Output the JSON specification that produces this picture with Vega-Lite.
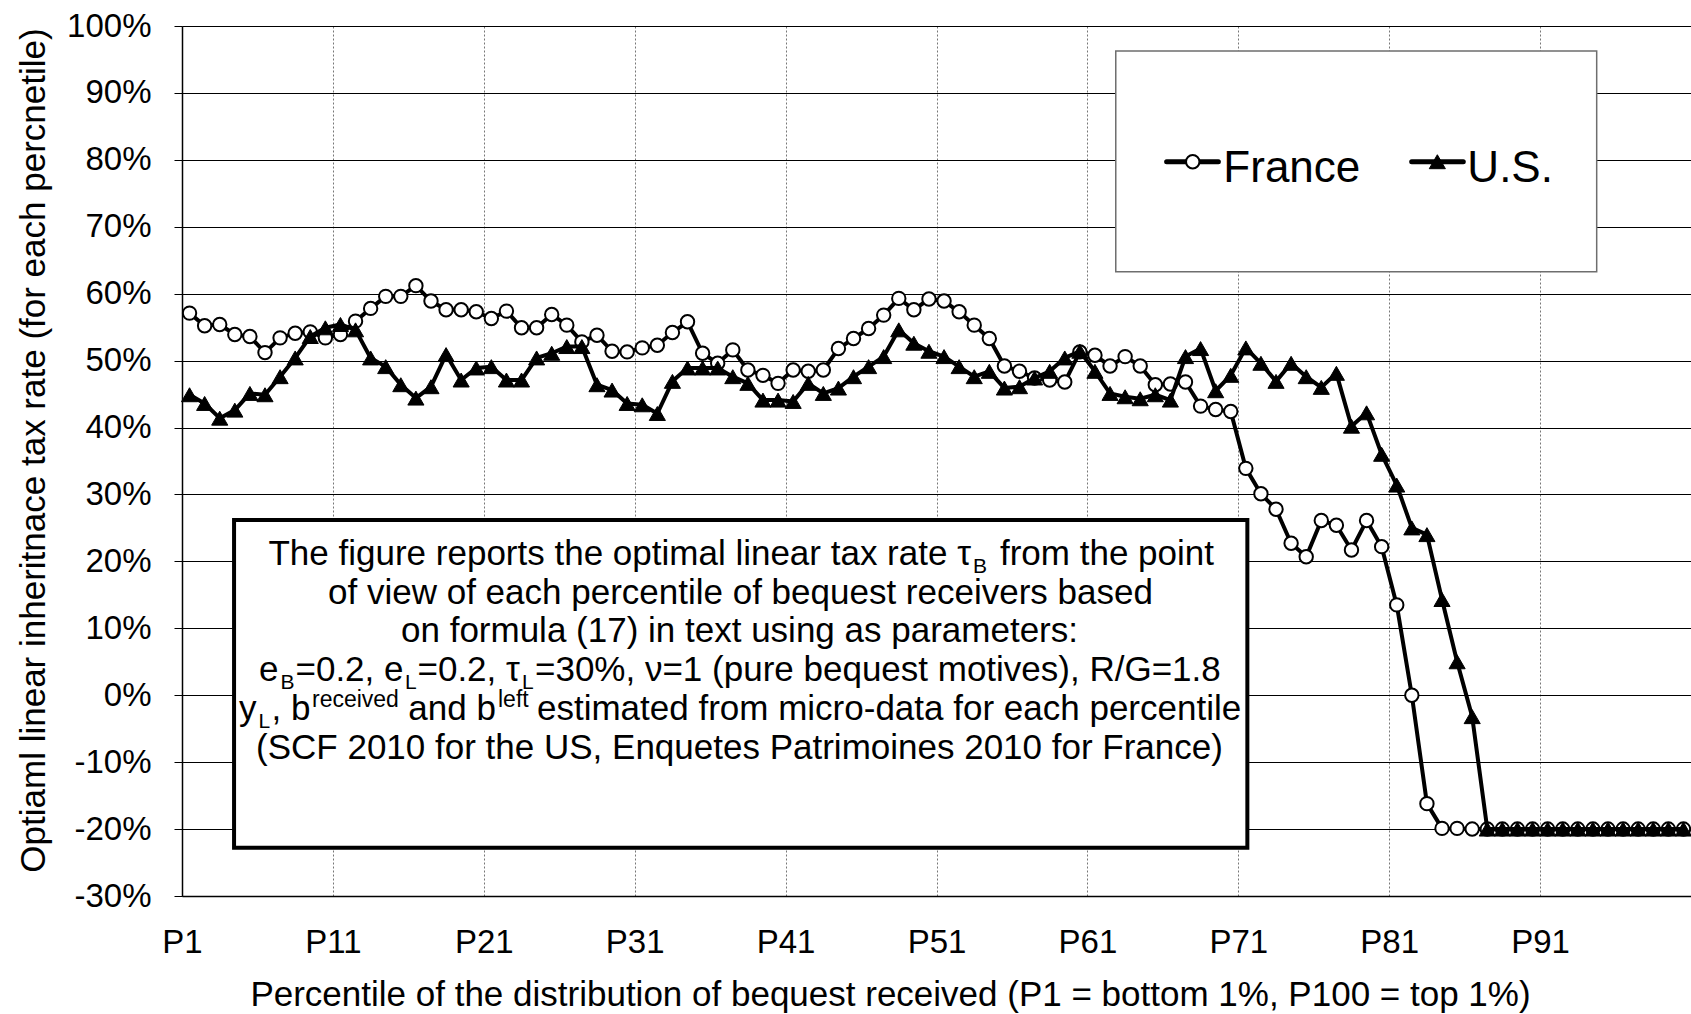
{
  "$schema": "https://vega.github.io/schema/vega-lite/v6.json",
  "width": 1509,
  "height": 870,
  "autosize": {"type": "none"},
  "padding": {"left": 182, "top": 26, "right": 0, "bottom": 118},
  "background": "white",
  "config": {"view": {"stroke": null}, "font": "Liberation Sans"},
  "data": {"values": [
    {"p":1,"s":"France","v":0.571},{"p":2,"s":"France","v":0.552},{"p":3,"s":"France","v":0.554},{"p":4,"s":"France","v":0.539},{"p":5,"s":"France","v":0.536},
    {"p":6,"s":"France","v":0.512},{"p":7,"s":"France","v":0.534},{"p":8,"s":"France","v":0.541},{"p":9,"s":"France","v":0.543},{"p":10,"s":"France","v":0.534},
    {"p":11,"s":"France","v":0.539},{"p":12,"s":"France","v":0.559},{"p":13,"s":"France","v":0.578},{"p":14,"s":"France","v":0.596},{"p":15,"s":"France","v":0.596},
    {"p":16,"s":"France","v":0.612},{"p":17,"s":"France","v":0.589},{"p":18,"s":"France","v":0.576},{"p":19,"s":"France","v":0.576},{"p":20,"s":"France","v":0.573},
    {"p":21,"s":"France","v":0.563},{"p":22,"s":"France","v":0.574},{"p":23,"s":"France","v":0.549},{"p":24,"s":"France","v":0.549},{"p":25,"s":"France","v":0.569},
    {"p":26,"s":"France","v":0.553},{"p":27,"s":"France","v":0.528},{"p":28,"s":"France","v":0.538},{"p":29,"s":"France","v":0.514},{"p":30,"s":"France","v":0.513},
    {"p":31,"s":"France","v":0.519},{"p":32,"s":"France","v":0.523},{"p":33,"s":"France","v":0.542},{"p":34,"s":"France","v":0.558},{"p":35,"s":"France","v":0.511},
    {"p":36,"s":"France","v":0.496},{"p":37,"s":"France","v":0.516},{"p":38,"s":"France","v":0.486},{"p":39,"s":"France","v":0.478},{"p":40,"s":"France","v":0.466},
    {"p":41,"s":"France","v":0.486},{"p":42,"s":"France","v":0.484},{"p":43,"s":"France","v":0.486},{"p":44,"s":"France","v":0.518},{"p":45,"s":"France","v":0.533},
    {"p":46,"s":"France","v":0.548},{"p":47,"s":"France","v":0.568},{"p":48,"s":"France","v":0.593},{"p":49,"s":"France","v":0.576},{"p":50,"s":"France","v":0.592},
    {"p":51,"s":"France","v":0.589},{"p":52,"s":"France","v":0.573},{"p":53,"s":"France","v":0.553},{"p":54,"s":"France","v":0.533},{"p":55,"s":"France","v":0.492},
    {"p":56,"s":"France","v":0.484},{"p":57,"s":"France","v":0.474},{"p":58,"s":"France","v":0.471},{"p":59,"s":"France","v":0.468},{"p":60,"s":"France","v":0.513},
    {"p":61,"s":"France","v":0.508},{"p":62,"s":"France","v":0.492},{"p":63,"s":"France","v":0.506},{"p":64,"s":"France","v":0.492},{"p":65,"s":"France","v":0.464},
    {"p":66,"s":"France","v":0.465},{"p":67,"s":"France","v":0.468},{"p":68,"s":"France","v":0.432},{"p":69,"s":"France","v":0.427},{"p":70,"s":"France","v":0.424},
    {"p":71,"s":"France","v":0.339},{"p":72,"s":"France","v":0.301},{"p":73,"s":"France","v":0.278},{"p":74,"s":"France","v":0.227},{"p":75,"s":"France","v":0.207},
    {"p":76,"s":"France","v":0.261},{"p":77,"s":"France","v":0.254},{"p":78,"s":"France","v":0.217},{"p":79,"s":"France","v":0.261},{"p":80,"s":"France","v":0.222},
    {"p":81,"s":"France","v":0.135},{"p":82,"s":"France","v":0.0},{"p":83,"s":"France","v":-0.162},{"p":84,"s":"France","v":-0.199},{"p":85,"s":"France","v":-0.199},
    {"p":86,"s":"France","v":-0.2},{"p":87,"s":"France","v":-0.2},{"p":88,"s":"France","v":-0.2},{"p":89,"s":"France","v":-0.2},{"p":90,"s":"France","v":-0.2},
    {"p":91,"s":"France","v":-0.2},{"p":92,"s":"France","v":-0.2},{"p":93,"s":"France","v":-0.2},{"p":94,"s":"France","v":-0.2},{"p":95,"s":"France","v":-0.2},
    {"p":96,"s":"France","v":-0.2},{"p":97,"s":"France","v":-0.2},{"p":98,"s":"France","v":-0.2},{"p":99,"s":"France","v":-0.2},{"p":100,"s":"France","v":-0.2},
    {"p":1,"s":"U.S.","v":0.449},{"p":2,"s":"U.S.","v":0.436},{"p":3,"s":"U.S.","v":0.414},{"p":4,"s":"U.S.","v":0.426},{"p":5,"s":"U.S.","v":0.451},
    {"p":6,"s":"U.S.","v":0.449},{"p":7,"s":"U.S.","v":0.476},{"p":8,"s":"U.S.","v":0.504},{"p":9,"s":"U.S.","v":0.536},{"p":10,"s":"U.S.","v":0.549},
    {"p":11,"s":"U.S.","v":0.554},{"p":12,"s":"U.S.","v":0.546},{"p":13,"s":"U.S.","v":0.504},{"p":14,"s":"U.S.","v":0.491},{"p":15,"s":"U.S.","v":0.464},
    {"p":16,"s":"U.S.","v":0.444},{"p":17,"s":"U.S.","v":0.461},{"p":18,"s":"U.S.","v":0.509},{"p":19,"s":"U.S.","v":0.471},{"p":20,"s":"U.S.","v":0.489},
    {"p":21,"s":"U.S.","v":0.491},{"p":22,"s":"U.S.","v":0.471},{"p":23,"s":"U.S.","v":0.471},{"p":24,"s":"U.S.","v":0.504},{"p":25,"s":"U.S.","v":0.511},
    {"p":26,"s":"U.S.","v":0.521},{"p":27,"s":"U.S.","v":0.521},{"p":28,"s":"U.S.","v":0.464},{"p":29,"s":"U.S.","v":0.456},{"p":30,"s":"U.S.","v":0.436},
    {"p":31,"s":"U.S.","v":0.434},{"p":32,"s":"U.S.","v":0.421},{"p":33,"s":"U.S.","v":0.469},{"p":34,"s":"U.S.","v":0.489},{"p":35,"s":"U.S.","v":0.489},
    {"p":36,"s":"U.S.","v":0.489},{"p":37,"s":"U.S.","v":0.476},{"p":38,"s":"U.S.","v":0.466},{"p":39,"s":"U.S.","v":0.441},{"p":40,"s":"U.S.","v":0.441},
    {"p":41,"s":"U.S.","v":0.439},{"p":42,"s":"U.S.","v":0.466},{"p":43,"s":"U.S.","v":0.451},{"p":44,"s":"U.S.","v":0.459},{"p":45,"s":"U.S.","v":0.476},
    {"p":46,"s":"U.S.","v":0.491},{"p":47,"s":"U.S.","v":0.506},{"p":48,"s":"U.S.","v":0.546},{"p":49,"s":"U.S.","v":0.526},{"p":50,"s":"U.S.","v":0.514},
    {"p":51,"s":"U.S.","v":0.506},{"p":52,"s":"U.S.","v":0.491},{"p":53,"s":"U.S.","v":0.476},{"p":54,"s":"U.S.","v":0.484},{"p":55,"s":"U.S.","v":0.459},
    {"p":56,"s":"U.S.","v":0.461},{"p":57,"s":"U.S.","v":0.474},{"p":58,"s":"U.S.","v":0.484},{"p":59,"s":"U.S.","v":0.504},{"p":60,"s":"U.S.","v":0.514},
    {"p":61,"s":"U.S.","v":0.484},{"p":62,"s":"U.S.","v":0.451},{"p":63,"s":"U.S.","v":0.446},{"p":64,"s":"U.S.","v":0.443},{"p":65,"s":"U.S.","v":0.449},
    {"p":66,"s":"U.S.","v":0.441},{"p":67,"s":"U.S.","v":0.506},{"p":68,"s":"U.S.","v":0.518},{"p":69,"s":"U.S.","v":0.455},{"p":70,"s":"U.S.","v":0.478},
    {"p":71,"s":"U.S.","v":0.519},{"p":72,"s":"U.S.","v":0.496},{"p":73,"s":"U.S.","v":0.469},{"p":74,"s":"U.S.","v":0.496},{"p":75,"s":"U.S.","v":0.476},
    {"p":76,"s":"U.S.","v":0.46},{"p":77,"s":"U.S.","v":0.481},{"p":78,"s":"U.S.","v":0.402},{"p":79,"s":"U.S.","v":0.422},{"p":80,"s":"U.S.","v":0.36},
    {"p":81,"s":"U.S.","v":0.314},{"p":82,"s":"U.S.","v":0.25},{"p":83,"s":"U.S.","v":0.24},{"p":84,"s":"U.S.","v":0.143},{"p":85,"s":"U.S.","v":0.05},
    {"p":86,"s":"U.S.","v":-0.032},{"p":87,"s":"U.S.","v":-0.2},{"p":88,"s":"U.S.","v":-0.2},{"p":89,"s":"U.S.","v":-0.2},{"p":90,"s":"U.S.","v":-0.2},
    {"p":91,"s":"U.S.","v":-0.2},{"p":92,"s":"U.S.","v":-0.2},{"p":93,"s":"U.S.","v":-0.2},{"p":94,"s":"U.S.","v":-0.2},{"p":95,"s":"U.S.","v":-0.2},
    {"p":96,"s":"U.S.","v":-0.2},{"p":97,"s":"U.S.","v":-0.2},{"p":98,"s":"U.S.","v":-0.2},{"p":99,"s":"U.S.","v":-0.2},{"p":100,"s":"U.S.","v":-0.2}
  ]},
  "layer": [
    {
      "transform": [{"filter": "datum.s === 'France'"}],
      "mark": {"type": "line", "color": "black", "strokeWidth": 4, "strokeJoin": "round"},
      "encoding": {
        "x": {"field": "p", "type": "quantitative",
          "scale": {"domain": [0.5, 100.5], "nice": false, "zero": false},
          "axis": {"values": [0.5, 10.5, 20.5, 30.5, 40.5, 50.5, 60.5, 70.5, 80.5, 90.5],
            "labelExpr": "'P' + (datum.value + 0.5)",
            "ticks": false, "tickSize": 0, "labelPadding": 30, "labelFontSize": 33, "labelColor": "black",
            "labelFlush": false, "labelOverlap": false,
            "domainColor": "black", "domainWidth": 1.5,
            "grid": true, "gridColor": "#777777", "gridDash": [2, 2], "gridWidth": 1,
            "title": "Percentile of the distribution of bequest received (P1 = bottom 1%, P100 = top 1%)",
            "titleFontSize": 35, "titleFontWeight": "normal", "titleColor": "black",
            "titleX": 708, "titleY": 109, "titleBaseline": "alphabetic", "titleAlign": "center", "titleAnchor": "start"}},
        "y": {"field": "v", "type": "quantitative",
          "scale": {"domain": [-0.3, 1.0], "nice": false, "zero": false},
          "axis": {"values": [-0.3, -0.2, -0.1, 0, 0.1, 0.2, 0.3, 0.4, 0.5, 0.6, 0.7, 0.8, 0.9, 1.0],
            "labelExpr": "(datum.value < 0 ? '-' : '') + format(abs(datum.value), '.0%')",
            "ticks": true, "tickSize": 8, "tickColor": "black", "tickWidth": 1,
            "labelPadding": 23, "labelFontSize": 33, "labelColor": "black", "labelFlush": false, "labelOverlap": false,
            "domainColor": "black", "domainWidth": 1.5,
            "grid": true, "gridColor": "black", "gridWidth": 1,
            "title": "Optiaml linear inheritnace tax rate (for each percnetile)",
            "titleFontSize": 35, "titleFontWeight": "normal", "titleColor": "black",
            "titleAngle": 270, "titleX": -138, "titleY": 424, "titleBaseline": "alphabetic", "titleAlign": "center", "titleAnchor": "start"}}
      }
    },
    {
      "transform": [{"filter": "datum.s === 'France'"}],
      "mark": {"type": "point", "shape": "circle", "size": 180, "filled": true, "fill": "white", "stroke": "black", "strokeWidth": 2, "opacity": 1},
      "encoding": {"x": {"field": "p", "type": "quantitative"}, "y": {"field": "v", "type": "quantitative"}}
    },
    {
      "transform": [{"filter": "datum.s === 'U.S.'"}],
      "mark": {"type": "line", "color": "black", "strokeWidth": 4, "strokeJoin": "round"},
      "encoding": {"x": {"field": "p", "type": "quantitative"}, "y": {"field": "v", "type": "quantitative"}}
    },
    {
      "transform": [{"filter": "datum.s === 'U.S.'"}],
      "mark": {"type": "point", "shape": "triangle-up", "size": 260, "filled": true, "fill": "black", "stroke": "black", "strokeWidth": 1, "opacity": 1},
      "encoding": {"x": {"field": "p", "type": "quantitative"}, "y": {"field": "v", "type": "quantitative"}}
    },
    {
      "data": {"values": [{}]},
      "mark": {"type": "rect", "fill": "white", "stroke": "#6e6e6e", "strokeWidth": 1.5},
      "encoding": {"x": {"datum": 62.38}, "x2": {"datum": 94.25}, "y": {"datum": 0.9626}, "y2": {"datum": 0.6329}}
    },
    {
      "data": {"values": [{}]},
      "mark": {"type": "rule", "color": "black", "strokeWidth": 5, "strokeCap": "round"},
      "encoding": {"x": {"datum": 65.75}, "x2": {"datum": 69.18}, "y": {"datum": 0.7972}}
    },
    {
      "data": {"values": [{}]},
      "mark": {"type": "point", "shape": "circle", "size": 180, "filled": true, "fill": "white", "stroke": "black", "strokeWidth": 2, "opacity": 1},
      "encoding": {"x": {"datum": 67.48}, "y": {"datum": 0.7972}}
    },
    {
      "data": {"values": [{}]},
      "mark": {"type": "text", "text": "France", "align": "left", "baseline": "alphabetic", "fontSize": 44, "color": "black"},
      "encoding": {"x": {"datum": 69.51}, "y": {"datum": 0.7673}}
    },
    {
      "data": {"values": [{}]},
      "mark": {"type": "rule", "color": "black", "strokeWidth": 5, "strokeCap": "round"},
      "encoding": {"x": {"datum": 81.99}, "x2": {"datum": 85.41}, "y": {"datum": 0.7972}}
    },
    {
      "data": {"values": [{}]},
      "mark": {"type": "point", "shape": "triangle-up", "size": 260, "filled": true, "fill": "black", "stroke": "black", "strokeWidth": 1, "opacity": 1},
      "encoding": {"x": {"datum": 83.69}, "y": {"datum": 0.7972}}
    },
    {
      "data": {"values": [{}]},
      "mark": {"type": "text", "text": "U.S.", "align": "left", "baseline": "alphabetic", "fontSize": 44, "color": "black"},
      "encoding": {"x": {"datum": 85.68}, "y": {"datum": 0.7673}}
    },
    {
      "data": {"values": [{}]},
      "mark": {"type": "rect", "fill": "white", "stroke": "black", "strokeWidth": 4},
      "encoding": {"x": {"datum": 3.95}, "x2": {"datum": 71.1}, "y": {"datum": 0.2618}, "y2": {"datum": -0.2278}}
    },
    {
      "data": {"values": [{}]},
      "mark": {"type": "text", "text": "The figure reports the optimal linear tax rate τ", "align": "right", "baseline": "alphabetic", "fontSize": 35, "color": "black", "dx": 230.5},
      "encoding": {"x": {"datum": 37.51}, "y": {"datum": 0.1946}}
    },
    {
      "data": {"values": [{}]},
      "mark": {"type": "text", "text": "B", "align": "left", "baseline": "alphabetic", "fontSize": 21, "color": "black", "dx": 232.5, "dy": 8},
      "encoding": {"x": {"datum": 37.51}, "y": {"datum": 0.1946}}
    },
    {
      "data": {"values": [{}]},
      "mark": {"type": "text", "text": "from the point", "align": "left", "baseline": "alphabetic", "fontSize": 35, "color": "black", "dx": 259.5},
      "encoding": {"x": {"datum": 37.51}, "y": {"datum": 0.1946}}
    },
    {
      "data": {"values": [{}]},
      "mark": {"type": "text", "text": "of view of each percentile of bequest receivers based", "align": "center", "baseline": "alphabetic", "fontSize": 35, "color": "black", "dx": 0},
      "encoding": {"x": {"datum": 37.51}, "y": {"datum": 0.1367}}
    },
    {
      "data": {"values": [{}]},
      "mark": {"type": "text", "text": "on formula (17) in text using as parameters:", "align": "center", "baseline": "alphabetic", "fontSize": 35, "color": "black", "dx": -1},
      "encoding": {"x": {"datum": 37.51}, "y": {"datum": 0.0789}}
    },
    {
      "data": {"values": [{}]},
      "mark": {"type": "text", "text": "e", "align": "left", "baseline": "alphabetic", "fontSize": 35, "color": "black", "dx": -481.5},
      "encoding": {"x": {"datum": 37.51}, "y": {"datum": 0.0211}}
    },
    {
      "data": {"values": [{}]},
      "mark": {"type": "text", "text": "B", "align": "left", "baseline": "alphabetic", "fontSize": 21, "color": "black", "dx": -460, "dy": 8},
      "encoding": {"x": {"datum": 37.51}, "y": {"datum": 0.0211}}
    },
    {
      "data": {"values": [{}]},
      "mark": {"type": "text", "text": "=0.2, e", "align": "left", "baseline": "alphabetic", "fontSize": 35, "color": "black", "dx": -445},
      "encoding": {"x": {"datum": 37.51}, "y": {"datum": 0.0211}}
    },
    {
      "data": {"values": [{}]},
      "mark": {"type": "text", "text": "L", "align": "left", "baseline": "alphabetic", "fontSize": 21, "color": "black", "dx": -335.5, "dy": 8},
      "encoding": {"x": {"datum": 37.51}, "y": {"datum": 0.0211}}
    },
    {
      "data": {"values": [{}]},
      "mark": {"type": "text", "text": "=0.2, τ", "align": "left", "baseline": "alphabetic", "fontSize": 35, "color": "black", "dx": -323},
      "encoding": {"x": {"datum": 37.51}, "y": {"datum": 0.0211}}
    },
    {
      "data": {"values": [{}]},
      "mark": {"type": "text", "text": "L", "align": "left", "baseline": "alphabetic", "fontSize": 21, "color": "black", "dx": -218.5, "dy": 8},
      "encoding": {"x": {"datum": 37.51}, "y": {"datum": 0.0211}}
    },
    {
      "data": {"values": [{}]},
      "mark": {"type": "text", "text": "=30%, ν=1 (pure bequest motives), R/G=1.8", "align": "left", "baseline": "alphabetic", "fontSize": 35, "color": "black", "dx": -205.5},
      "encoding": {"x": {"datum": 37.51}, "y": {"datum": 0.0211}}
    },
    {
      "data": {"values": [{}]},
      "mark": {"type": "text", "text": "y", "align": "left", "baseline": "alphabetic", "fontSize": 35, "color": "black", "dx": -501.5},
      "encoding": {"x": {"datum": 37.51}, "y": {"datum": -0.0368}}
    },
    {
      "data": {"values": [{}]},
      "mark": {"type": "text", "text": "L", "align": "left", "baseline": "alphabetic", "fontSize": 21, "color": "black", "dx": -482, "dy": 8},
      "encoding": {"x": {"datum": 37.51}, "y": {"datum": -0.0368}}
    },
    {
      "data": {"values": [{}]},
      "mark": {"type": "text", "text": ", b", "align": "left", "baseline": "alphabetic", "fontSize": 35, "color": "black", "dx": -469},
      "encoding": {"x": {"datum": 37.51}, "y": {"datum": -0.0368}}
    },
    {
      "data": {"values": [{}]},
      "mark": {"type": "text", "text": "received", "align": "left", "baseline": "alphabetic", "fontSize": 23, "color": "black", "dx": -428.5, "dy": -13},
      "encoding": {"x": {"datum": 37.51}, "y": {"datum": -0.0368}}
    },
    {
      "data": {"values": [{}]},
      "mark": {"type": "text", "text": "and b", "align": "left", "baseline": "alphabetic", "fontSize": 35, "color": "black", "dx": -332.2},
      "encoding": {"x": {"datum": 37.51}, "y": {"datum": -0.0368}}
    },
    {
      "data": {"values": [{}]},
      "mark": {"type": "text", "text": "left", "align": "left", "baseline": "alphabetic", "fontSize": 23, "color": "black", "dx": -242.5, "dy": -13},
      "encoding": {"x": {"datum": 37.51}, "y": {"datum": -0.0368}}
    },
    {
      "data": {"values": [{}]},
      "mark": {"type": "text", "text": "estimated from micro-data for each percentile", "align": "left", "baseline": "alphabetic", "fontSize": 35, "color": "black", "dx": -203.5},
      "encoding": {"x": {"datum": 37.51}, "y": {"datum": -0.0368}}
    },
    {
      "data": {"values": [{}]},
      "mark": {"type": "text", "text": "(SCF 2010 for the US, Enquetes Patrimoines 2010 for France)", "align": "center", "baseline": "alphabetic", "fontSize": 35, "color": "black", "dx": -1},
      "encoding": {"x": {"datum": 37.51}, "y": {"datum": -0.0946}}
    }
  ]
}
